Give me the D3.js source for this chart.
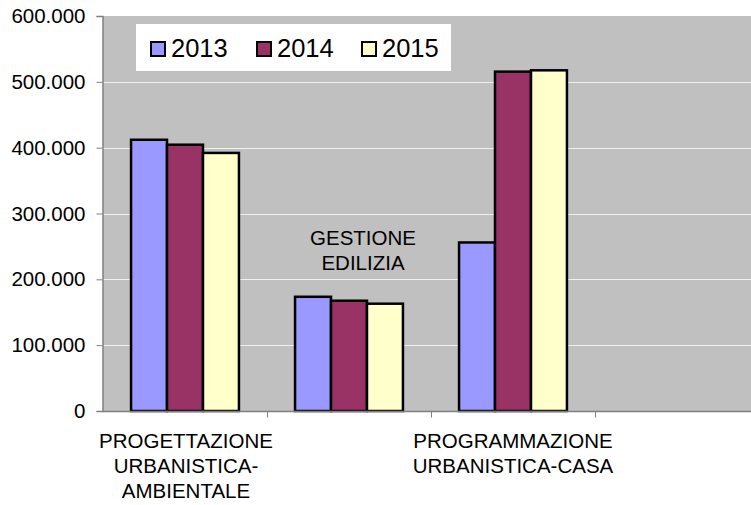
<!DOCTYPE html>
<html>
<head>
<meta charset="utf-8">
<script src="https://cdn.jsdelivr.net/npm/d3@7"></script>
<style>
  body { margin: 0; background: #fff; }
  svg { display: block; font-family: "Liberation Sans", Arial, sans-serif; }
</style>
</head>
<body>
<div id="chart"></div>
<script>
// data
const categories = ["PROGETTAZIONE URBANISTICA-AMBIENTALE", "GESTIONE EDILIZIA", "PROGRAMMAZIONE URBANISTICA-CASA", ""];
const categoryLines = [
	["PROGETTAZIONE", "URBANISTICA-", "AMBIENTALE"],
	["GESTIONE", "EDILIZIA"],
	["PROGRAMMAZIONE", "URBANISTICA-CASA"],
	[]
];
const years = ["2013", "2014", "2015"];
const values2013 = [412000, 173500, 256000, null];
const values2014 = [404500, 167500, 515500, null];
const values2015 = [392000, 163000, 517500, null];
const yTicks = [0, 100000, 200000, 300000, 400000, 500000, 600000];
const colors = ["#9999FF", "#993366", "#FFFFCC"];

const series = [values2013, values2014, values2015];

const W = 751, H = 505;
const M = { left: 103, top: 16, right: 759, bottom: 411 };

const it = d3.formatLocale({ decimal: ",", thousands: ".", grouping: [3], currency: ["€", ""] });
const fmt = it.format(",");

const svg = d3.select('#chart').append('svg')
	.attr('width', W)
	.attr('height', H);

const x = d3.scaleBand()
	.domain(categories)
	.range([M.left, M.right]);

const xInner = d3.scaleBand()
	.domain(years)
	.range([0, x.bandwidth()])
	.paddingOuter(0.78);

const y = d3.scaleLinear()
	.domain([0, 600000])
	.range([M.bottom, M.top]);

// plot background
svg.append('rect')
	.attr('x', M.left)
	.attr('y', M.top)
	.attr('width', M.right - M.left)
	.attr('height', M.bottom - M.top)
	.attr('fill', '#C0C0C0');

// gridlines
svg.append('g')
	.selectAll('line')
	.data(yTicks.filter(d => d > 0 && d < 600000))
	.enter().append('line')
	.attr('x1', M.left)
	.attr('x2', M.right)
	.attr('y1', d => Math.round(y(d)) + 0.5)
	.attr('y2', d => Math.round(y(d)) + 0.5)
	.attr('stroke', '#F0F0F0')
	.attr('stroke-width', 1);

// y axis
const yAxis = svg.append('g')
	.attr('transform', 'translate(' + (M.left - 0.5) + ',0)')
	.call(d3.axisLeft(y).tickValues(yTicks).tickFormat(fmt).tickSize(6).tickPadding(11));
yAxis.select('.domain').attr('stroke', '#808080').attr('stroke-width', 1.5);
yAxis.selectAll('.tick line').attr('stroke', '#808080');
yAxis.selectAll('.tick text')
	.attr('font-size', '20.5px')
	.attr('fill', '#000')
	.attr('font-family', '"Liberation Sans", Arial, sans-serif');

// bars
const groups = svg.append('g')
	.selectAll('g')
	.data(series)
	.enter().append('g')
	.attr('fill', (d, i) => colors[i]);

groups.selectAll('rect')
	.data((vals, si) => vals.map((v, ci) => ({ v: v, cat: categories[ci], year: years[si] })).filter(d => d.v != null))
	.enter().append('rect')
	.attr('x', d => x(d.cat) + xInner(d.year))
	.attr('y', d => y(d.v))
	.attr('width', xInner.bandwidth())
	.attr('height', d => y(0) - y(d.v))
	.attr('stroke', '#000')
	.attr('stroke-width', 2.5);

// x axis
const xAxis = svg.append('g')
	.attr('transform', 'translate(0,' + (M.bottom + 0.5) + ')');
xAxis.append('line')
	.attr('x1', M.left)
	.attr('x2', M.right)
	.attr('stroke', '#808080')
	.attr('stroke-width', 1.5);
xAxis.selectAll('.xt')
	.data(categories.slice(1))
	.enter().append('line')
	.attr('class', 'xt')
	.attr('x1', d => Math.round(x(d)) + 0.5)
	.attr('x2', d => Math.round(x(d)) + 0.5)
	.attr('y1', 0)
	.attr('y2', 6)
	.attr('stroke', '#808080');

// category labels (the middle one sits inside the plot, staggered)
const labelPos = [
	{ dx: 1, y0: 448 },
	{ dx: 14, y0: 245 },
	{ dx: 0, y0: 448 }
];
categoryLines.forEach((lines, i) => {
	if (!lines.length) return;
	const cx = x(categories[i]) + x.bandwidth() / 2 + labelPos[i].dx;
	svg.append('text')
		.attr('text-anchor', 'middle')
		.attr('font-size', '20.5px')
		.attr('fill', '#000')
		.selectAll('tspan')
		.data(lines)
		.enter().append('tspan')
		.attr('x', cx)
		.attr('y', (d, j) => labelPos[i].y0 + j * 25)
		.text(d => d);
});

// legend
const legend = svg.append('g');
legend.append('rect')
	.attr('x', 136)
	.attr('y', 24)
	.attr('width', 315)
	.attr('height', 47)
	.attr('fill', '#fff');
const legendX = [150, 256, 361];
const items = legend.selectAll('g.item')
	.data(years)
	.enter().append('g')
	.attr('class', 'item')
	.attr('transform', (d, i) => trans(legendX[i], 41));
items.append('rect')
	.attr('x', 1)
	.attr('y', 1)
	.attr('width', 14)
	.attr('height', 14)
	.attr('fill', (d, i) => colors[i])
	.attr('stroke', '#000')
	.attr('stroke-width', 2);
items.append('text')
	.attr('x', 21)
	.attr('y', 15.5)
	.attr('font-size', '25.5px')
	.attr('fill', '#000')
	.text(d => d);

function trans(a, b) {
	return 'translate(' + a + ',' + b + ')';
}
</script>
</body>
</html>
